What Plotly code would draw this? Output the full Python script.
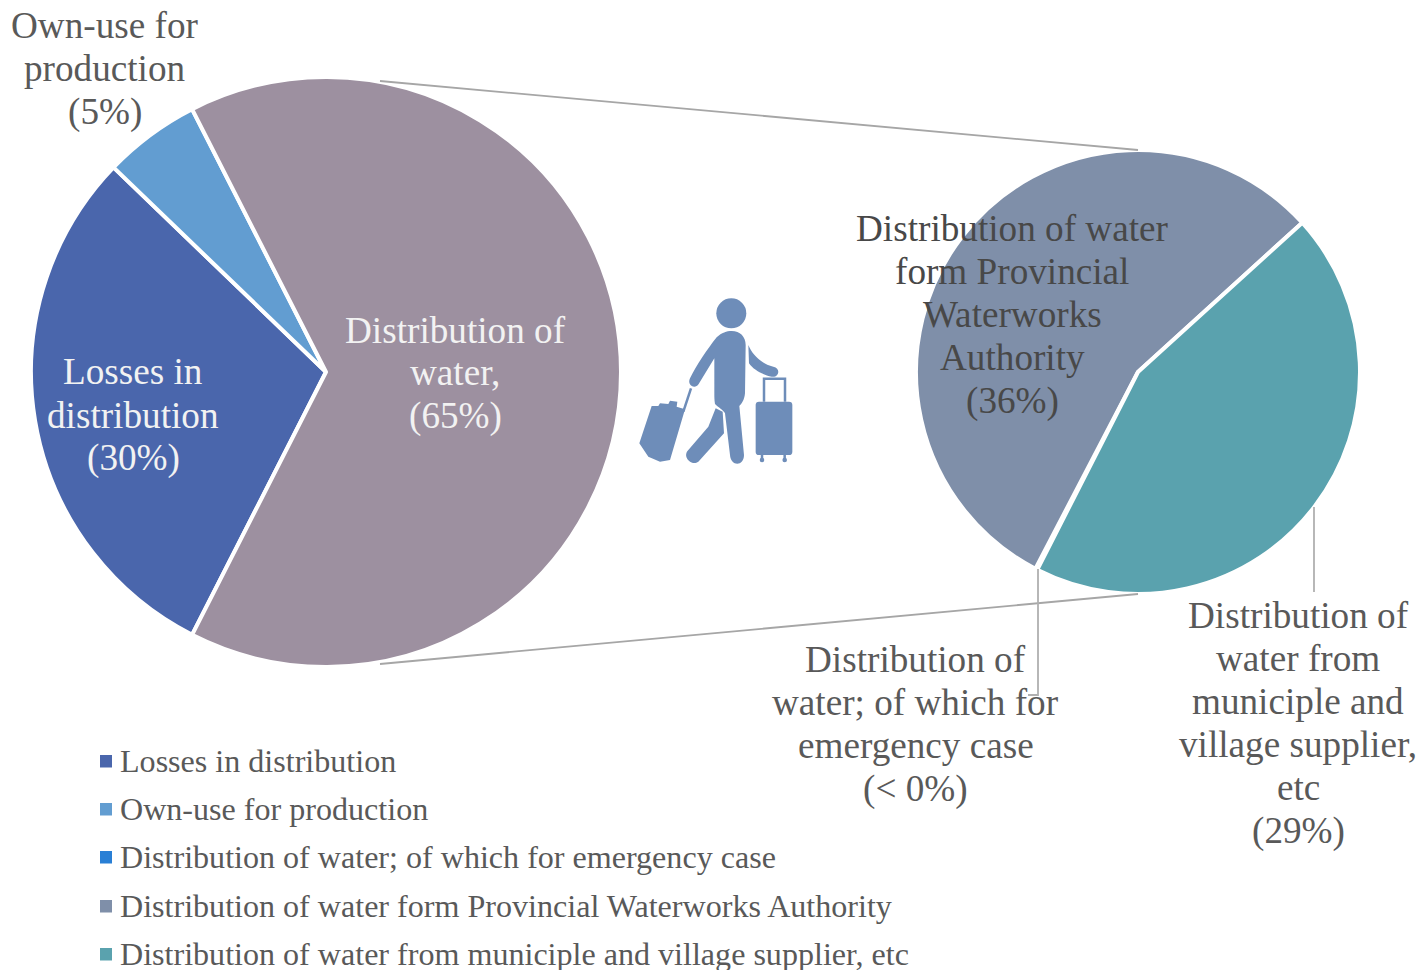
import re

import plotly.graph_objects as go

W, H = 1419, 970
FONT = "Liberation Serif"

main_labels = ["Losses in distribution", "Own-use for production", "Distribution of water"]
main_values = [29.7, 5.3, 65]
main_colors = ["#4A66AC", "#629DD1", "#9D90A0"]

sub_labels = ["Distribution of water; of which for emergency case",
              "Distribution of water form Provincial Waterworks Authority",
              "Distribution of water from municiple and village supplier, etc"]
sub_values = [0.1, 36.2, 28.8]
sub_colors = ["#297FD5", "#7F8FA9", "#5AA2AE"]

legend_labels = ["Losses in distribution", "Own-use for production",
                 "Distribution of water; of which for emergency case",
                 "Distribution of water form Provincial Waterworks Authority",
                 "Distribution of water from municiple and village supplier, etc"]
legend_colors = ["#4A66AC", "#629DD1", "#297FD5", "#7F8FA9", "#5AA2AE"]
legend_y = [761, 809, 857, 906, 954]

# text lines, centre x, y of first line, colour
slice_text = [
    (["Own-use for", "production", "(5%)"], 105, 25.5, "#595959"),
    (["Losses in", "distribution", "(30%)"], 133, 372, "#F2F2F2"),
    (["Distribution of", "water,", "(65%)"], 455, 330, "#F2F2F2"),
    (["Distribution of water", "form Provincial", "Waterworks", "Authority", "(36%)"], 1012, 228.5, "#484848"),
    (["Distribution of", "water; of which for", "emergency case", "(< 0%)"], 916, 659.5, "#595959"),
    (["Distribution of", "water from", "municiple and", "village supplier,", "etc", "(29%)"], 1298, 615.5, "#595959"),
]


def px(x, y):
    return x / W, 1 - y / H


def domain(cx, cy, r):
    return dict(x=[(cx - r) / W, (cx + r) / W], y=[1 - (cy + r) / H, 1 - (cy - r) / H])


def pie(labels, values, colors, rotation, dom):
    return go.Pie(labels=labels, values=values, sort=False, direction="clockwise", rotation=rotation,
                  domain=dom, textinfo="none", showlegend=False,
                  marker=dict(colors=colors, line=dict(color="white", width=4)))


fig = go.Figure()
fig.add_trace(pie(main_labels, main_values, main_colors, 207, domain(326, 372, 295)))
fig.add_trace(pie(sub_labels, sub_values, sub_colors, 207, domain(1138, 372, 222)))


def line_shape(points, color="#A6A6A6", width=1.8):
    d = "M " + " L ".join("{},{}".format(*px(*p)) for p in points)
    fig.add_shape(type="path", path=d, xref="paper", yref="paper",
                  line=dict(color=color, width=width))


# series lines and leader lines
line_shape([(380, 81), (1138, 150)])
line_shape([(380, 664), (1138, 594)])
line_shape([(1038, 569), (1038, 695), (1028, 695)], "#B0B0B0")
line_shape([(1314, 507), (1314, 592)], "#B0B0B0")

# traveller icon, path coordinates are relative to a 3x box at (620, 280)
ICON = "#6E8DB9"
icon_paths = [
    "M 335,153 C 360,153 377,170 377,195 L 375,340 C 373,360 365,372 358,378 L 372,525 "
    "C 372,560 332,560 330,525 L 315,400 C 310,390 295,382 285,372 C 283,360 283,350 283,340 "
    "L 283,235 L 236,312 C 225,330 200,315 210,295 C 230,255 260,210 290,172 C 305,158 320,153 335,153 Z",
    "M 287,385 L 308,395 L 312,460 L 235,545 C 215,560 185,530 205,510 L 265,440 Z",
    "M 385,195 C 395,220 420,250 460,260 C 485,265 475,295 455,290 C 430,285 400,270 387,250 Z",
    "M 417,365 L 507,365 Q 517,365 517,375 L 517,515 Q 517,525 507,525 L 417,525 "
    "Q 407,525 407,515 L 407,375 Q 407,365 417,365 Z",
    "M 95,378 L 115,378 L 120,370 L 145,372 L 150,362 L 172,365 L 170,380 L 195,388 "
    "L 150,540 L 120,545 L 85,530 L 58,490 Z",
]


def icon_xy(m):
    x, y = px(620 + float(m.group(1)) / 3, 280 + float(m.group(2)) / 3)
    return f"{x},{y}"


for d in icon_paths:
    fig.add_shape(type="path", path=re.sub(r"([\d.]+),([\d.]+)", icon_xy, d), xref="paper", yref="paper",
                  fillcolor=ICON, line=dict(width=0))
for d in ["M 432,365 L 432,296 L 495,296 L 495,365", "M 213,325 L 190,395",
          "M 426,525 L 426,540", "M 494,525 L 494,540"]:
    fig.add_shape(type="path", path=re.sub(r"([\d.]+),([\d.]+)", icon_xy, d), xref="paper", yref="paper",
                  line=dict(color=ICON, width=2.5))
for cx, cy, r in [(731.3, 313.3, 15), (762, 460, 2.3), (784.7, 460, 2.3)]:
    x0, y0 = px(cx - r, cy + r)
    x1, y1 = px(cx + r, cy - r)
    fig.add_shape(type="circle", x0=x0, y0=y0, x1=x1, y1=y1, xref="paper", yref="paper",
                  fillcolor=ICON, line=dict(width=0))

# slice labels, one annotation per line to keep the tight line pitch
for lines, cx, y0, color in slice_text:
    for i, txt in enumerate(lines):
        x, y = px(cx, y0 + i * 43)
        fig.add_annotation(x=x, y=y, xref="paper", yref="paper", text=txt, showarrow=False,
                           xanchor="center", yanchor="middle", font=dict(family=FONT, size=37.2, color=color))

# legend
for label, color, ly in zip(legend_labels, legend_colors, legend_y):
    x0, y0 = px(100, ly + 6.5)
    x1, y1 = px(112, ly - 6)
    fig.add_shape(type="rect", x0=x0, y0=y0, x1=x1, y1=y1, xref="paper", yref="paper",
                  fillcolor=color, line=dict(width=0))
    x, y = px(118, ly)
    fig.add_annotation(x=x, y=y, xref="paper", yref="paper", text=label, showarrow=False,
                       xanchor="left", yanchor="middle", font=dict(family=FONT, size=32.1, color="#595959"))

fig.update_layout(width=W, height=H, margin=dict(l=0, r=0, t=0, b=0),
                  paper_bgcolor="white", showlegend=False)

fig.write_html("out.html", config=dict(displayModeBar=False),
               post_script="document.body.style.margin='0';")
